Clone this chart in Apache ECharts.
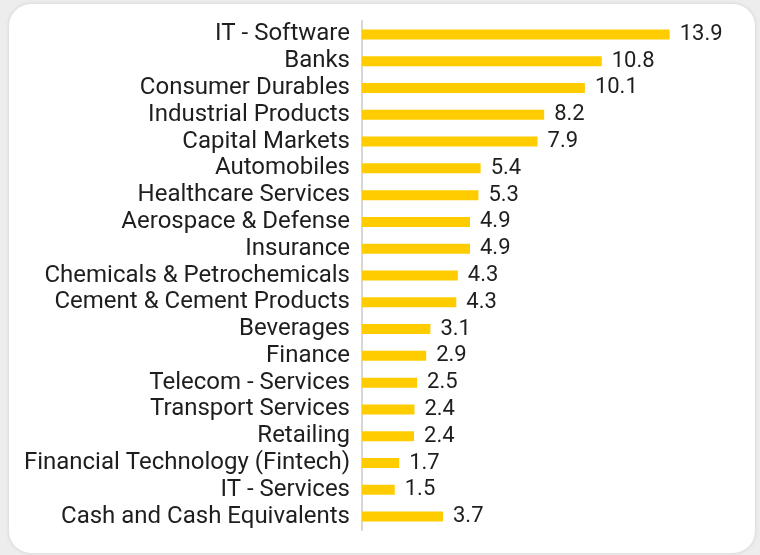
<!DOCTYPE html>
<html>
<head>
<meta charset="utf-8">
<script src="https://cdn.jsdelivr.net/npm/echarts@6/dist/echarts.min.js"></script>
<style>
  html, body { margin: 0; padding: 0; background: #ededed; }
  #card { position: absolute; left: 9px; top: 4px; width: 746px; height: 549px; background: #ffffff; border-radius: 22px; box-shadow: 0 0 4px rgba(0,0,0,0.12); }
  #chart { position: absolute; left: 0; top: 0; width: 760px; height: 555px; }
</style>
</head>
<body>
<div id="card"></div>
<div id="chart"></div>
<script>
const categories = [
  "IT - Software", "Banks", "Consumer Durables", "Industrial Products", "Capital Markets",
  "Automobiles", "Healthcare Services", "Aerospace & Defense", "Insurance",
  "Chemicals & Petrochemicals", "Cement & Cement Products", "Beverages", "Finance",
  "Telecom - Services", "Transport Services", "Retailing", "Financial Technology (Fintech)",
  "IT - Services", "Cash and Cash Equivalents"
];
const values = [13.9, 10.83, 10.07, 8.23, 7.93, 5.36, 5.26, 4.88, 4.88, 4.33, 4.26, 3.09, 2.9, 2.49, 2.37, 2.35, 1.68, 1.48, 3.66];

const chart = echarts.init(document.getElementById('chart'), null, { renderer: 'canvas' });
chart.setOption({
  backgroundColor: 'transparent',
  animation: false,
  grid: { left: 362, right: 66, top: 21, bottom: 25 },
  xAxis: {
    type: 'value', min: 0, max: 15,
    show: false
  },
  yAxis: {
    type: 'category', data: categories, inverse: true,
    axisLine: { show: true, lineStyle: { color: '#d6d6d6', width: 2 } },
    axisTick: { show: false },
    splitLine: { show: false },
    axisLabel: { interval: 0, color: '#1e1e1e', fontSize: 24, fontFamily: 'Roboto', fontWeight: 'normal', margin: 12 }
  },
  series: [{
    type: 'bar', data: values, barWidth: 10,
    itemStyle: { color: '#FFCC00' },
    label: {
      show: true, position: 'right', distance: 10,
      color: '#1e1e1e', fontSize: 22, fontFamily: 'Roboto', fontWeight: 'normal',
      formatter: p => p.value.toFixed(1)
    }
  }]
});
</script>
</body>
</html>
